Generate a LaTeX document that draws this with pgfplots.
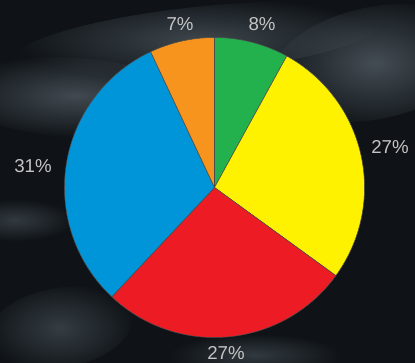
\documentclass[border=0pt]{standalone}
\usepackage{pgfplots}
\pgfplotsset{compat=1.18}
\usepackage{fontspec}
\setmainfont{Liberation Sans}
\usetikzlibrary{fadings}
\tikzfading[name=softfade, inner color=transparent!0, outer color=transparent!100]
\definecolor{bg}{HTML}{0F1317}
\definecolor{streak}{HTML}{4A545B}
\definecolor{cgreen}{HTML}{22B14C}
\definecolor{cyellow}{HTML}{FFF200}
\definecolor{cred}{HTML}{ED1C24}
\definecolor{cblue}{HTML}{0095D9}
\definecolor{corange}{HTML}{F7941D}
\definecolor{labelgray}{HTML}{C4C4C4}
% shares (percent): green 8, yellow 27, red 27, blue 31, orange 7
% angles (deg, clockwise from top): 90, 61.2, -36, -133.2, -244.8, -270
\begin{document}
\begin{tikzpicture}
\begin{axis}[hide axis, scale only axis, width=311.25pt, height=272.25pt,
  xmin=0, xmax=415, ymin=0, ymax=363, clip=true]
\fill[bg] (axis cs:0,0) rectangle (axis cs:415,363);
% background streaks
\fill[streak, opacity=0.8, path fading=softfade, shift={(axis cs:200,323)}, rotate=6] (0,0) ellipse [x radius=140pt, y radius=25pt];
\fill[streak, opacity=0.85, path fading=softfade, shift={(axis cs:75,265)}, rotate=-4] (0,0) ellipse [x radius=95pt, y radius=30pt];
\fill[streak, opacity=0.9, path fading=softfade, shift={(axis cs:375,300)}, rotate=12] (0,0) ellipse [x radius=80pt, y radius=42pt];
\fill[streak, opacity=0.6, path fading=softfade, shift={(axis cs:15,143)}, rotate=0] (0,0) ellipse [x radius=45pt, y radius=16pt];
\fill[streak, opacity=0.65, path fading=softfade, shift={(axis cs:60,35)}, rotate=10] (0,0) ellipse [x radius=55pt, y radius=30pt];
\fill[streak, opacity=0.6, path fading=softfade, shift={(axis cs:255,8)}, rotate=0] (0,0) ellipse [x radius=65pt, y radius=16pt];
% pie slices: centre (214.5,175.5), radius 150
\addplot[fill=cgreen, draw=black!70, line width=0.4pt, domain=61.2:90, samples=40] ({214.5+150*cos(x)},{175.5+150*sin(x)}) -- (axis cs:214.5,175.5) -- cycle;
\addplot[fill=cyellow, draw=black!70, line width=0.4pt, domain=-36:61.2, samples=80] ({214.5+150*cos(x)},{175.5+150*sin(x)}) -- (axis cs:214.5,175.5) -- cycle;
\addplot[fill=cred, draw=black!70, line width=0.4pt, domain=-133.2:-36, samples=80] ({214.5+150*cos(x)},{175.5+150*sin(x)}) -- (axis cs:214.5,175.5) -- cycle;
\addplot[fill=cblue, draw=black!70, line width=0.4pt, domain=-244.8:-133.2, samples=90] ({214.5+150*cos(x)},{175.5+150*sin(x)}) -- (axis cs:214.5,175.5) -- cycle;
\addplot[fill=corange, draw=black!70, line width=0.4pt, domain=-270:-244.8, samples=30] ({214.5+150*cos(x)},{175.5+150*sin(x)}) -- (axis cs:214.5,175.5) -- cycle;
% labels
\begin{scope}[every node/.style={text=labelgray, font=\fontsize{14}{16}\selectfont, inner sep=0pt}]
\node at (axis cs:180,339) {7\%};
\node at (axis cs:262,339) {8\%};
\node[anchor=west] at (axis cs:371,216) {27\%};
\node at (axis cs:33,197) {31\%};
\node at (axis cs:226,10) {27\%};
\end{scope}
\end{axis}
\end{tikzpicture}
\end{document}
